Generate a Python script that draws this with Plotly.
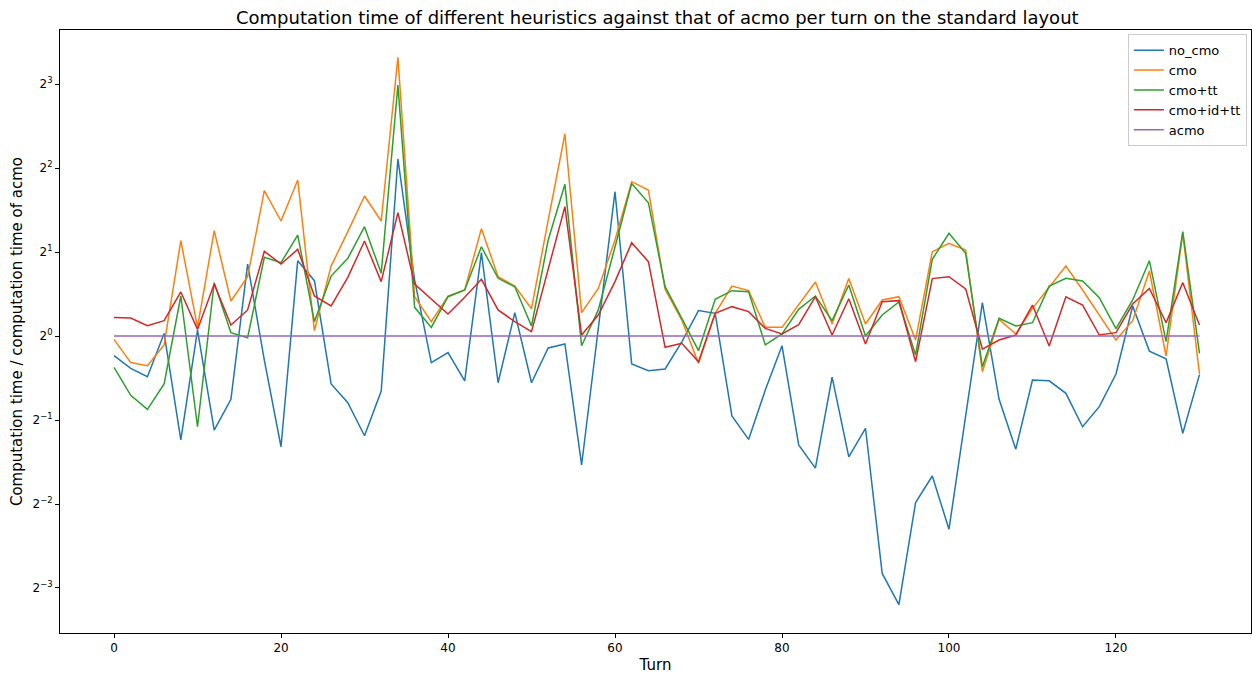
import plotly.graph_objects as go

turns = list(range(0, 131, 2))

no_cmo = [0.850, 0.766, 0.715, 1.021, 0.424, 1.05, 0.460, 0.593, 1.811, 0.820,
          0.401, 1.862, 1.579, 0.673, 0.577, 0.439, 0.635, 4.31, 1.588, 0.803,
          0.872, 0.691, 1.989, 0.680, 1.213, 0.680, 0.906, 0.936, 0.345, 1.05,
          3.29, 0.794, 0.751, 0.762, 0.953, 1.233, 1.206, 0.517, 0.426, 0.640,
          0.923, 0.407, 0.336, 0.712, 0.369, 0.467, 0.141, 0.109, 0.253, 0.315,
          0.203, 0.518, 1.317, 0.593, 0.393, 0.695, 0.691, 0.623, 0.473, 0.558,
          0.731, 1.281, 0.883, 0.829, 0.448, 0.727]

cmo = [0.973, 0.803, 0.783, 0.929, 2.196, 1.074, 2.385, 1.335, 1.631, 3.317,
       2.583, 3.623, 1.045, 1.781, 2.366, 3.175, 2.583, 9.97, 1.383, 1.126,
       1.391, 1.462, 2.425, 1.631, 1.510, 1.253, 2.603, 5.296, 1.213, 1.481,
       2.208, 3.573, 3.336, 1.470, 1.141, 0.798, 1.206, 1.510, 1.454, 1.074,
       1.074, 1.291, 1.562, 1.104, 1.606, 1.104, 1.346, 1.383, 0.967, 2.006,
       2.148, 2.034, 0.745, 1.147, 1.017, 1.256, 1.502, 1.781, 1.462, 1.189,
       0.967, 1.135, 1.710, 0.848, 2.333, 0.731]

cmo_tt = [0.772, 0.613, 0.546, 0.673, 1.391, 0.473, 1.553, 1.028, 0.986, 1.915,
          1.831, 2.301, 1.126, 1.640, 1.898, 2.466, 1.677, 7.93, 1.267, 1.074,
          1.383, 1.462, 2.089, 1.610, 1.502, 1.086, 2.208, 3.497, 0.923, 1.240,
          2.085, 3.523, 3.004, 1.502, 1.157, 0.886, 1.354, 1.454, 1.442, 0.929,
          1.017, 1.246, 1.391, 1.135, 1.523, 1.0, 1.189, 1.324, 0.855, 1.883,
          2.333, 1.978, 0.776, 1.157, 1.086, 1.116, 1.510, 1.610, 1.575, 1.372,
          1.062, 1.346, 1.862, 0.955, 2.366, 0.867]

cmo_id_tt = [1.166, 1.160, 1.089, 1.135, 1.438, 1.056, 1.536, 1.095, 1.240, 2.011,
             1.811, 2.045, 1.391, 1.281, 1.622, 2.190, 1.566, 2.767, 1.536, 1.354,
             1.199, 1.376, 1.597, 1.240, 1.126, 1.037, 1.738, 2.908, 1.008, 1.189,
             1.566, 2.160, 1.847, 0.911, 0.942, 0.809, 1.206, 1.274, 1.223, 1.065,
             1.017, 1.098, 1.383, 1.008, 1.360, 0.936, 1.328, 1.339, 0.809, 1.606,
             1.631, 1.474, 0.898, 0.967, 1.008, 1.291, 0.921, 1.383, 1.291, 1.008,
             1.028, 1.302, 1.481, 1.116, 1.553, 1.095]

acmo = [1.0] * len(turns)

series_names = ["no_cmo", "cmo", "cmo+tt", "cmo+id+tt", "acmo"]
series_values = [no_cmo, cmo, cmo_tt, cmo_id_tt, acmo]
colors = ["#1f77b4", "#ff7f0e", "#2ca02c", "#d62728", "#9467bd"]

y_tick_vals = [0.125, 0.25, 0.5, 1, 2, 4, 8]
y_tick_text = ["2<sup>\u22123</sup>", "2<sup>\u22122</sup>", "2<sup>\u22121</sup>",
               "2<sup>0</sup>", "2<sup>1</sup>", "2<sup>2</sup>", "2<sup>3</sup>"]
x_tick_vals = [0, 20, 40, 60, 80, 100, 120]

fig = go.Figure()
for name, vals, c in zip(series_names, series_values, colors):
    fig.add_trace(go.Scatter(x=turns, y=vals, mode="lines", name=name,
                             line=dict(color=c, width=1.5)))

font_family = "DejaVu Sans, Arial, sans-serif"
fig.update_layout(
    width=1252, height=678,
    margin=dict(l=60, r=1, t=30, b=45, autoexpand=False),
    paper_bgcolor="white", plot_bgcolor="white",
    font=dict(family=font_family, color="black", size=12),
    title=dict(text="Computation time of different heuristics against that of acmo per turn on the standard layout",
               x=0.525, xanchor="center", xref="container", y=0.974, yref="container", yanchor="middle",
               font=dict(size=18, family=font_family, color="black"), automargin=False),
    legend=dict(x=0.9965, y=0.993, xanchor="right", yanchor="top",
                bgcolor="rgba(255,255,255,0.8)", bordercolor="#cccccc", borderwidth=1,
                font=dict(size=13, family=font_family), tracegroupgap=2),
    showlegend=True,
)
fig.update_xaxes(
    range=[-6.47, 136.17], tickmode="array", tickvals=x_tick_vals, automargin=False,
    showgrid=False, zeroline=False, showline=True, linecolor="black", linewidth=1,
    mirror=True, ticks="outside", ticklen=4, tickcolor="black",
    title=dict(text="Turn", font=dict(size=15), standoff=5),
)
fig.update_yaxes(
    type="log", range=[-1.0644, 1.0967], tickmode="array", automargin=False,
    tickvals=y_tick_vals, ticktext=y_tick_text,
    showgrid=False, zeroline=False, showline=True, linecolor="black", linewidth=1,
    mirror=True, ticks="outside", ticklen=4, tickcolor="black",
    title=dict(text="Computation time / computation time of acmo", font=dict(size=15), standoff=6),
)

fig.write_html("out.html", config={"displayModeBar": False},
               post_script="document.body.style.margin='0';document.body.style.overflow='hidden';")
